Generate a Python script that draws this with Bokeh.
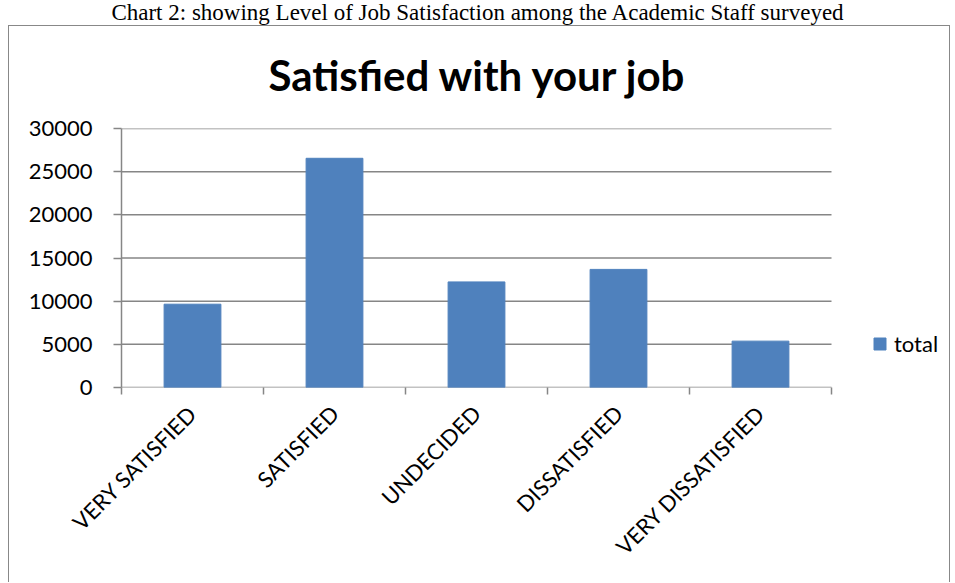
from bokeh.plotting import figure
from bokeh.models import (Range1d, FixedTicker, Legend, LegendItem, ColumnDataSource, Title, Div)
from bokeh.layouts import column
from bokeh.embed import file_html
from bokeh.resources import INLINE
from math import pi

categories = ["VERY SATISFIED", "SATISFIED", "UNDECIDED", "DISSATISFIED", "VERY DISSATISFIED"]
totals = [9650, 26550, 12230, 13680, 5370]
y_ticks = [0, 5000, 10000, 15000, 20000, 25000, 30000]
series_name = "total"
title_text = "Satisfied with your job"
caption_text = "Chart 2: showing Level of Job Satisfaction among the Academic Staff surveyed"

# ---- caption (outside the bordered chart box)
CAP_H = 25
cap = Div(text=caption_text, width=955, height=CAP_H,
          styles={"font-family": "'Liberation Serif', serif", "font-size": "23px",
                  "line-height": f"{CAP_H}px", "text-align": "center", "color": "black",
                  "width": "955px", "margin": "0", "padding": "0", "white-space": "nowrap"})

# ---- main chart (in page coords it starts at x=8, y=CAP_H+1)
W, H = 942, 583 - CAP_H - 1
FL, FT, FB = 112, 126 - CAP_H - 1, 387 - CAP_H - 1
FR = W - 4                      # frame extends right to hold the legend
CAT_PX = 142                    # pixel width of one category slot
n = len(categories)
x_end = -0.5 + (FR - FL) / CAT_PX

idx = list(range(n))
src = ColumnDataSource(dict(x=idx, top=totals, cat=categories))
grid_src = ColumnDataSource(dict(x0=[-0.5] * len(y_ticks), x1=[n - 0.5] * len(y_ticks), y=y_ticks))

p = figure(width=W, height=H, output_backend="svg", toolbar_location=None,
           x_range=Range1d(-0.5, x_end), y_range=Range1d(0, 30000),
           min_border_left=FL, min_border_right=W - FR, min_border_top=0,
           min_border_bottom=H - FB)
p.title.visible = False
p.outline_line_color = None
p.background_fill_color = "white"
p.border_fill_color = "white"
p.margin = (0, 0, 0, 8)
p.styles = {"border-left": "1px solid #888888", "border-top": "1px solid #888888",
            "border-right": "1px solid #888888"}

# horizontal gridlines (stop at the last category boundary)
p.segment(x0="x0", x1="x1", y0="y", y1="y", source=grid_src,
          line_color="#868686", line_width=1.5)

r = p.vbar(x="x", top="top", width=0.4, source=src, fill_color="#4F81BD",
           line_color="#4F81BD")

# axes
xa = p.xaxis[0]
xa.ticker = FixedTicker(ticks=idx, minor_ticks=[i - 0.5 for i in range(n + 1)])
xa.major_label_overrides = {i: c for i, c in enumerate(categories)}
xa.major_label_orientation = pi / 4
xa.major_tick_line_color = None
xa.major_tick_out = 0
xa.major_tick_in = 0
xa.minor_tick_out = 7
xa.minor_tick_in = 0
xa.minor_tick_line_color = "#868686"
xa.minor_tick_line_width = 1.5
xa.axis_line_color = None
xa.major_label_text_font = "Lato"
xa.major_label_text_font_size = "22px"
xa.major_label_text_color = "black"
xa.major_label_standoff = 15

ya = p.yaxis[0]
ya.ticker = FixedTicker(ticks=y_ticks)
ya.minor_tick_line_color = None
ya.major_tick_out = 8
ya.major_tick_in = 0
ya.major_tick_line_color = "#868686"
ya.major_tick_line_width = 1.5
ya.axis_line_color = "#868686"
ya.axis_line_width = 1.5
ya.major_label_text_font = "Lato"
ya.major_label_text_font_size = "22px"
ya.major_label_text_color = "black"
ya.major_label_standoff = 21

p.xgrid.grid_line_color = None
p.ygrid.grid_line_color = None

# legend, to the right of the bars
leg = Legend(items=[LegendItem(label=series_name, renderers=[r])],
             location=(n * CAT_PX + 41, 30), orientation="vertical",
             glyph_width=15, glyph_height=15, label_standoff=7, padding=0, margin=0,
             border_line_color=None, background_fill_alpha=0,
             label_text_font="Lato", label_text_font_size="22px", label_text_color="black")
p.add_layout(leg, "center")

# chart title (centred over the bar area)
SPACER = 6
p.add_layout(Title(text=" ", text_font_size=f"{SPACER}px", standoff=0), "above")
p.add_layout(Title(text=title_text, align="left", offset=(n * CAT_PX) / 2 - 208,
                   text_font="Lato", text_font_style="bold", text_font_size="42px",
                   text_color="black", standoff=FT - 52 - SPACER), "above")

layout = column(cap, p, spacing=0)
open("out.html", "w").write(file_html(layout, INLINE))
